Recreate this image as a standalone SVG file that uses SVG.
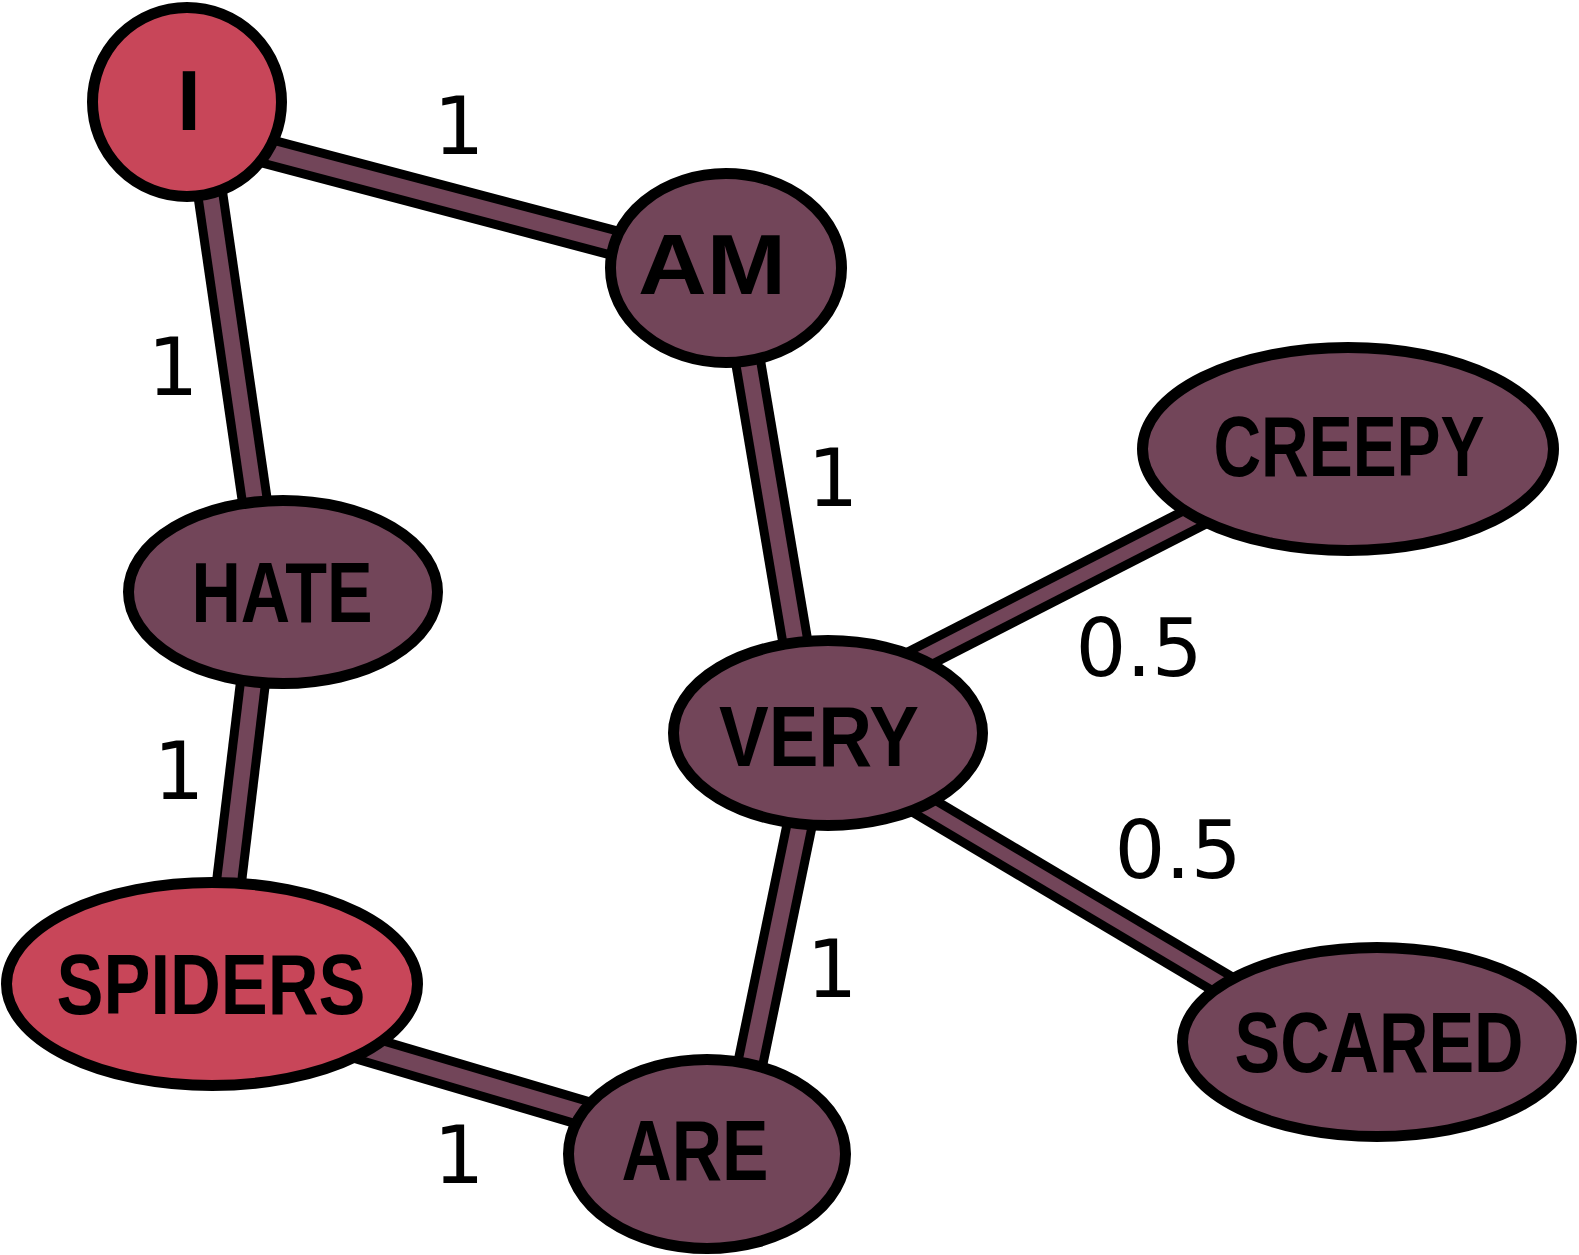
<svg xmlns="http://www.w3.org/2000/svg" width="1579" height="1255" viewBox="0 0 1579 1255">
<style>
.eo{stroke:#000;stroke-width:34;fill:none}
.ei{stroke:#724559;stroke-width:16;fill:none}
.eoh{stroke:#000;stroke-width:31;fill:none}
.eih{stroke:#724559;stroke-width:13;fill:none}
.n{stroke:#000;stroke-width:11}
.red{fill:#C84659}
.pur{fill:#724559}
.lbl{font-family:"Liberation Sans",Arial,sans-serif;font-weight:bold;font-size:86px;fill:#000;text-anchor:middle}
.el{font-family:"DejaVu Sans",sans-serif;font-size:80px;fill:#000;text-anchor:middle}
</style>
<rect width="1579" height="1255" fill="#fff"/>
<g id="connectors">
<g id="e-i-am"><line class="eo" x1="201" y1="134" x2="705" y2="267"/><line class="ei" x1="201" y1="134" x2="705" y2="267"/></g>
<g id="e-i-hate"><line class="eo" x1="204" y1="151" x2="264" y2="564"/><line class="ei" x1="204" y1="151" x2="264" y2="564"/></g>
<g id="e-hate-spiders"><line class="eo" x1="260" y1="624" x2="220" y2="957"/><line class="ei" x1="260" y1="624" x2="220" y2="957"/></g>
<g id="e-spiders-are"><line class="eo" x1="302" y1="1030" x2="685" y2="1143"/><line class="ei" x1="302" y1="1030" x2="685" y2="1143"/></g>
<g id="e-am-very"><line class="eo" x1="738" y1="302" x2="806" y2="705"/><line class="ei" x1="738" y1="302" x2="806" y2="705"/></g>
<g id="e-very-are"><line class="eo" x1="812" y1="765" x2="737" y2="1128"/><line class="ei" x1="812" y1="765" x2="737" y2="1128"/></g>
<g id="e-very-creepy"><line class="eoh" x1="836" y1="701" x2="1309" y2="459"/><line class="eih" x1="836" y1="701" x2="1309" y2="459"/></g>
<g id="e-very-scared"><line class="eoh" x1="836" y1="754" x2="1359" y2="1065"/><line class="eih" x1="836" y1="754" x2="1359" y2="1065"/></g>
<text class="el" x="459" y="154">1</text>
<text class="el" x="173" y="395">1</text>
<text class="el" x="179" y="799">1</text>
<text class="el" x="833" y="506">1</text>
<text class="el" x="832" y="997">1</text>
<text class="el" x="459" y="1183">1</text>
<text class="el" x="1139" y="676">0.5</text>
<text class="el" x="1178" y="878">0.5</text>
</g>
<g id="node-i"><circle class="n red" cx="187" cy="102" r="94.5"/><text class="lbl" x="189" y="130">I</text></g>
<g id="node-am"><ellipse class="n pur" cx="726" cy="268" rx="115.5" ry="94.5"/><text class="lbl" x="712" y="294" textLength="148" lengthAdjust="spacingAndGlyphs">AM</text></g>
<g id="node-creepy"><ellipse class="n pur" cx="1348" cy="449" rx="205.5" ry="101.5"/><text class="lbl" x="1349" y="476" textLength="271" lengthAdjust="spacingAndGlyphs">CREEPY</text></g>
<g id="node-hate"><ellipse class="n pur" cx="283" cy="592" rx="154.5" ry="91.5"/><text class="lbl" x="282" y="622" textLength="181" lengthAdjust="spacingAndGlyphs">HATE</text></g>
<g id="node-very"><ellipse class="n pur" cx="828" cy="733" rx="154.5" ry="92.5"/><text class="lbl" x="819" y="766" textLength="200" lengthAdjust="spacingAndGlyphs">VERY</text></g>
<g id="node-spiders"><ellipse class="n red" cx="212" cy="984" rx="205.5" ry="101.5"/><text class="lbl" x="211" y="1014" textLength="309" lengthAdjust="spacingAndGlyphs">SPIDERS</text></g>
<g id="node-are"><ellipse class="n pur" cx="707" cy="1154" rx="138.5" ry="94.5"/><text class="lbl" x="695" y="1180" textLength="147" lengthAdjust="spacingAndGlyphs">ARE</text></g>
<g id="node-scared"><ellipse class="n pur" cx="1377" cy="1042" rx="194.5" ry="94.5"/><text class="lbl" x="1379" y="1072" textLength="289" lengthAdjust="spacingAndGlyphs">SCARED</text></g>
</svg>
